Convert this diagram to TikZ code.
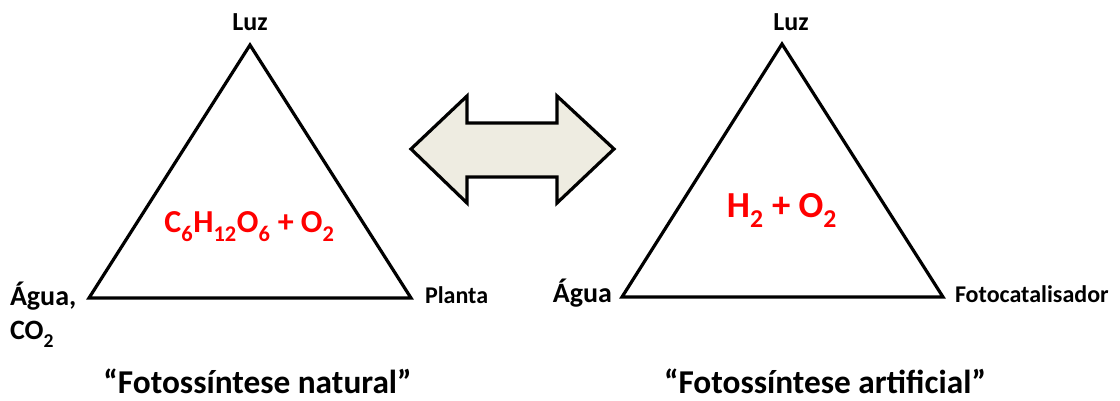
\documentclass[tikz,border=0pt]{standalone}
\usepackage{fontspec}
\setmainfont{Carlito}
\definecolor{arrowfill}{HTML}{EEECE1}
\definecolor{formred}{HTML}{FF0000}
\newcommand{\lowsub}[1]{\textsubscript{\raisebox{-0.45ex}{#1}}}
\begin{document}
\begin{tikzpicture}[x=0.75pt,y=-0.75pt,
  tri/.style={draw=black,line width=2.4pt,line join=miter},
  lbl/.style={inner sep=0pt,outer sep=0pt},
  fluz/.style={font=\bfseries\fontsize{19.5}{22}\selectfont},
  fagua/.style={font=\bfseries\fontsize{21}{24}\selectfont},
  fsmall/.style={font=\bfseries\fontsize{18}{20}\selectfont},
  fform/.style={font=\bfseries\fontsize{24}{28}\selectfont,text=formred},
  fformbig/.style={font=\bfseries\fontsize{27.5}{30}\selectfont,text=formred},
  ftitle/.style={font=\bfseries\fontsize{25}{28}\selectfont},
  dblarrow/.style={draw=black,line width=2.4pt,line join=miter,fill=arrowfill}]
\useasboundingbox (0,0) rectangle (1120,400);
% left triangle
\coordinate (LA) at (250,45);
\coordinate (LB) at (89,298);
\coordinate (LC) at (411,298);
\draw[tri] (LA) -- (LB) -- (LC) -- cycle;
\node[lbl,fluz,anchor=base] (luz1) at (250,30) {Luz};
\node[lbl,fagua,anchor=base west] (agua1) at (10,305) {Água,};
\node[lbl,fagua,anchor=base west] (co2) at (10,339) {CO\lowsub{2}};
\node[lbl,fsmall,anchor=base west] (planta) at (425,303) {Planta};
\node[lbl,fform,anchor=base] (f1) at (249.5,232) {C\lowsub{6}H\lowsub{12}O\lowsub{6} + O\lowsub{2}};
\node[lbl,ftitle,anchor=base] (t1) at (257.5,393) {“Fotossíntese natural”};
% right triangle
\coordinate (RA) at (782,44);
\coordinate (RB) at (622,297);
\coordinate (RC) at (943,297);
\draw[tri] (RA) -- (RB) -- (RC) -- cycle;
\node[lbl,fluz,anchor=base] (luz2) at (791,30) {Luz};
\node[lbl,fagua,anchor=base east] (agua2) at (612,302) {Água};
\node[lbl,fsmall,anchor=base west] (foto) at (955,302) {Fotocatalisador};
\node[lbl,fformbig,anchor=base] (f2) at (782,217) {H\lowsub{2} + O\lowsub{2}};
\node[lbl,ftitle,anchor=base] (t2) at (825,393) {“Fotossíntese artificial”};
% double arrow
\draw[dblarrow] (411,149) -- (467,96) -- (467,123) -- (557,123) -- (557,96)
  -- (614,149) -- (557,203) -- (557,177) -- (467,177) -- (467,203) -- cycle;
\end{tikzpicture}
\end{document}
